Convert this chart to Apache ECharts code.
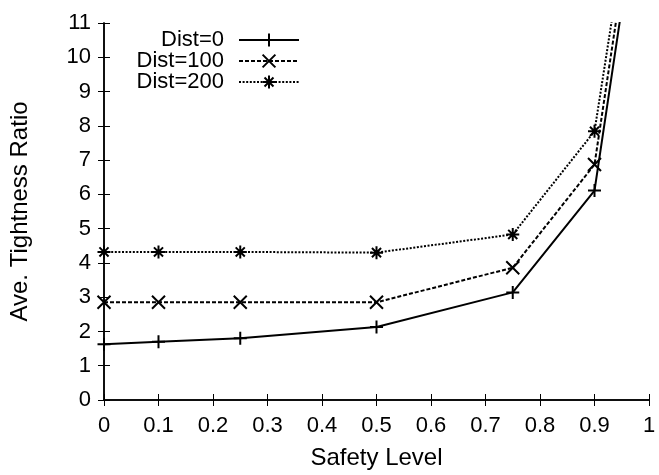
<!DOCTYPE html>
<html><head><meta charset="utf-8">
<script src="https://cdn.jsdelivr.net/npm/echarts@6/dist/echarts.min.js"></script>
<style>html,body{margin:0;padding:0;background:#fff}#c{width:659px;height:475px}</style>
</head><body><div id="c"></div>
<script>
const safetyLevels = [0, 0.1, 0.25, 0.5, 0.75, 0.9, 0.95];
const dist0 = [1.63, 1.70, 1.80, 2.13, 3.14, 6.11, 11.43];
const dist100 = [2.85, 2.85, 2.85, 2.85, 3.86, 6.87, 12.16];
const dist200 = [4.32, 4.32, 4.32, 4.30, 4.83, 7.84, 12.94];
const seriesNames = ['Dist=0', 'Dist=100', 'Dist=200'];
const xLabel = 'Safety Level';
const yLabel = 'Ave. Tightness Ratio';

const FONT = 'Liberation Sans';
const plus = 'path://M5,0L5,10M0,5L10,5';
const cross = 'path://M0,0L10,10M10,0L0,10';
const star = 'path://M5,0L5,10M0,5L10,5M1.5,1.5L8.5,8.5M8.5,1.5L1.5,8.5';
const symbols = [plus, cross, star];
const dashes = ['solid', [4, 2], [2, 1.6]];
const values = [dist0, dist100, dist200];

const chart = echarts.init(document.getElementById('c'), null, {renderer: 'canvas'});
const axisCommon = {
  axisLine: {show: true, lineStyle: {color: '#000', width: 1.5}},
  axisTick: {show: true, inside: true, length: 6, lineStyle: {color: '#000', width: 1}},
  splitLine: {show: false}
};
const series = seriesNames.map((n, i) => ({
  name: n,
  type: 'line',
  data: safetyLevels.map((x, j) => [x, values[i][j]]),
  symbol: symbols[i],
  symbolSize: 13,
  showAllSymbol: true,
  clip: true,
  lineStyle: {color: '#000', width: 2, type: dashes[i], cap: 'butt'},
  itemStyle: {color: 'rgba(0,0,0,0)', borderColor: '#000', borderWidth: 2},
  emphasis: {disabled: true},
  animation: false
}));
const legends = seriesNames.map((n, i) => ({
  data: [n],
  orient: 'vertical',
  align: 'right',
  right: 359,
  top: 29 + i * 21,
  padding: 0,
  itemWidth: 60,
  itemHeight: 16,
  textStyle: {fontFamily: FONT, fontSize: 22, color: '#000', padding: [0, 10, 0, 0]},
  selectedMode: false
}));
chart.setOption({
  animation: false,
  backgroundColor: '#fff',
  grid: {left: 103, right: 10, top: 23, bottom: 73},
  legend: legends,
  xAxis: [
    Object.assign({
      type: 'value', min: 0, max: 1, interval: 0.1, position: 'bottom',
      name: xLabel, nameLocation: 'middle', nameGap: 46,
      nameTextStyle: {fontFamily: FONT, fontSize: 24, color: '#000'},
      axisLabel: {fontFamily: FONT, fontSize: 22, color: '#000', margin: 15}
    }, axisCommon),
    Object.assign({
      type: 'value', min: 0, max: 1, interval: 0.1, position: 'top',
      axisLabel: {show: false}
    }, axisCommon)
  ],
  yAxis: [
    Object.assign({
      type: 'value', min: 0, max: 11, interval: 1, position: 'left',
      name: yLabel, nameLocation: 'middle', nameGap: 72,
      nameTextStyle: {fontFamily: FONT, fontSize: 24, color: '#000'},
      axisLabel: {fontFamily: FONT, fontSize: 22, color: '#000', margin: 13}
    }, axisCommon),
    Object.assign({
      type: 'value', min: 0, max: 11, interval: 1, position: 'right',
      axisLabel: {show: false}
    }, axisCommon)
  ],
  series: series
});
</script></body></html>
